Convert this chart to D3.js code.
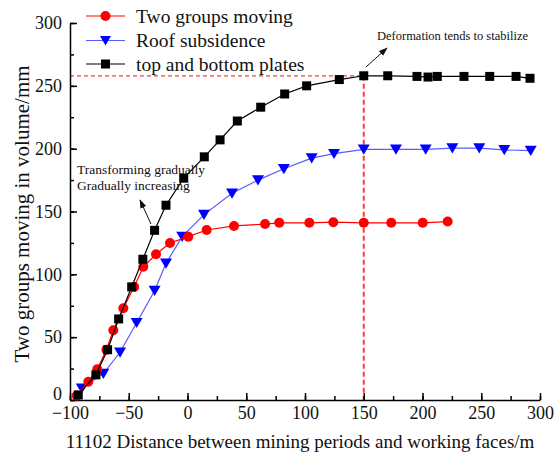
<!DOCTYPE html>
<html>
<head>
<meta charset="utf-8">
<script src="https://cdn.jsdelivr.net/npm/d3@7"></script>
<style>
  html, body { margin: 0; padding: 0; background: #fff; }
  svg { display: block; }
  svg text { font-family: "Liberation Serif", "DejaVu Serif", serif; }
</style>
</head>
<body>
<svg id="chart" width="555" height="459"></svg>
<script>
// Distance between mining periods and working faces (m) and displacement (mm)
const xMove = [-94.3, -84.4, -76.8, -69, -63.1, -54.6, -45.5, -37.6, -26.8, -14.9, 0.7, 16.3, 39.6, 66, 78.1, 103.7, 124.1, 150, 173.4, 200.2, 221.4];
const yMove = [3.5, 14.5, 24.5, 40, 55.5, 73, 90, 106, 116, 125, 130, 135.3, 138.5, 140, 141, 141, 141.5, 141, 141, 141, 142];

const xRoof = [-90, -71.6, -57.4, -43.3, -28, -18.3, -4.5, 14, 37.9, 60, 82, 105.7, 124.7, 150, 177.4, 202.7, 225.4, 248.3, 269.6, 292.1];
const yRoof = [9.3, 21, 38, 61.5, 87, 108.8, 130, 147.5, 164.5, 175, 184, 192.5, 196, 199.5, 199.5, 199.5, 200.5, 200.5, 199, 198.5];

const xPlate = [-93, -78, -68, -58.6, -47.5, -38, -28, -18.3, -3.2, 14.3, 27.7, 42.4, 62.3, 82.7, 101.4, 129.2, 150, 170.4, 195.3, 204.7, 212.6, 235.3, 257.2, 279.6, 291.5];
const yPlate = [4, 20, 40, 64.5, 90, 112, 135, 155, 176.5, 193.5, 207, 222, 233, 243.5, 250, 255, 258, 258, 257.5, 257, 257.5, 257.5, 257.5, 257.5, 256];

const seriesNames = ["Two groups moving", "Roof subsidence", "top and bottom plates"];
const xTicks = [-100, -50, 0, 50, 100, 150, 200, 250, 300];
const yTicks = [0, 50, 100, 150, 200, 250, 300];
const stableX = 150, stableY = 258;

const svg = d3.select("#chart");
const x = d3.scaleLinear().domain([-100, 300]).range([70, 540]);
const y = d3.scaleLinear().domain([0, 300]).range([400, 23]);

// Reference lines marking where deformation levels off
const refColor = "#ff3b3b";
svg.append("line")
  .attr("x1", x(-100)).attr("x2", x(stableX))
  .attr("y1", y(stableY)).attr("y2", y(stableY))
  .attr("stroke", refColor).attr("stroke-width", 1.2).attr("stroke-dasharray", "4,3");
svg.append("line")
  .attr("x1", x(stableX)).attr("x2", x(stableX))
  .attr("y1", y(stableY)).attr("y2", y(0))
  .attr("stroke", refColor).attr("stroke-width", 2).attr("stroke-dasharray", "5,3");

// Axes with inward ticks
const minorX = d3.range(-100, 301, 25);
const minorY = d3.range(0, 301, 25);
svg.append("g").attr("transform", `translate(0,${y(0)})`)
  .call(d3.axisBottom(x).tickValues(minorX).tickSize(-4).tickFormat(""))
  .call(g => g.select(".domain").remove());
svg.append("g").attr("transform", `translate(${x(-100)},0)`)
  .call(d3.axisLeft(y).tickValues(minorY).tickSize(-4).tickFormat(""))
  .call(g => g.select(".domain").remove());

const fmt = d => d < 0 ? "\u2212" + Math.abs(d) : String(d);
const gx = svg.append("g").attr("transform", `translate(0,${y(0)})`)
  .call(d3.axisBottom(x).tickValues(xTicks).tickSize(-7).tickSizeOuter(0).tickPadding(6).tickFormat(fmt));
const gy = svg.append("g").attr("transform", `translate(${x(-100)},0)`)
  .call(d3.axisLeft(y).tickValues(yTicks).tickSize(-7).tickSizeOuter(0).tickPadding(8).tickFormat(fmt));
[gx, gy].forEach(g => {
  g.attr("font-family", null);
  g.selectAll("text").attr("font-size", 18).attr("fill", "#111");
  g.selectAll("line, path").attr("stroke", "#000").attr("stroke-width", 1.5);
});
// lift the zero label on the value axis so it clears the distance labels
gy.selectAll(".tick").filter(d => d === 0).select("text").attr("dy", "-0.05em");
svg.selectAll("g line").attr("stroke-width", 1.5);

// Axis titles
svg.append("text")
  .attr("x", 300).attr("y", 448)
  .attr("text-anchor", "middle").attr("font-size", 19).attr("fill", "#111")
  .text("11102 Distance between mining periods and working faces/m");
svg.append("text")
  .attr("transform", `translate(29,${214}) rotate(-90)`)
  .attr("text-anchor", "middle").attr("font-size", 21).attr("fill", "#111")
  .text("Two groups moving in volume/mm");

// Series
const line = d3.line().x(d => x(d[0])).y(d => y(d[1]));
const zip = (a, b) => a.map((v, i) => [v, b[i]]);
const dataMove = zip(xMove, yMove);
const dataRoof = zip(xRoof, yRoof);
const dataPlate = zip(xPlate, yPlate);

const triDown = (cx, cy, s) => `M${cx - s},${cy - s * 0.8}L${cx + s},${cy - s * 0.8}L${cx},${cy + s * 0.9}Z`;

function drawRoof(g, data) {
  g.append("path").datum(data).attr("d", line).attr("fill", "none").attr("stroke", "#5a5aff").attr("stroke-width", 1.2);
  g.selectAll("path.m").data(data).join("path").attr("class", "m")
    .attr("d", d => triDown(x(d[0]), y(d[1]), 6)).attr("fill", "#0000ff");
}
function drawMove(g, data) {
  g.append("path").datum(data).attr("d", line).attr("fill", "none").attr("stroke", "#ff0000").attr("stroke-width", 1.2);
  g.selectAll("circle").data(data).join("circle")
    .attr("cx", d => x(d[0])).attr("cy", d => y(d[1])).attr("r", 5).attr("fill", "#ff0000");
}
function drawPlate(g, data) {
  g.append("path").datum(data).attr("d", line).attr("fill", "none").attr("stroke", "#000").attr("stroke-width", 1.2);
  g.selectAll("rect").data(data).join("rect")
    .attr("x", d => x(d[0]) - 4.5).attr("y", d => y(d[1]) - 4.5)
    .attr("width", 9).attr("height", 9).attr("fill", "#000");
}
drawRoof(svg.append("g"), dataRoof);
drawMove(svg.append("g"), dataMove);
drawPlate(svg.append("g"), dataPlate);

// Legend
const legendY = [16, 40.5, 64];
const lg = svg.append("g");
const lcolors = ["#ff0000", "#5a5aff", "#000"];
seriesNames.forEach((name, i) => {
  const ly = legendY[i];
  lg.append("line").attr("x1", 86).attr("x2", 125).attr("y1", ly).attr("y2", ly)
    .attr("stroke", lcolors[i]).attr("stroke-width", 1.2);
  if (i === 0) lg.append("circle").attr("cx", 105.5).attr("cy", ly).attr("r", 5).attr("fill", "#ff0000");
  if (i === 1) lg.append("path").attr("d", triDown(105.5, ly, 5.5)).attr("fill", "#0000ff");
  if (i === 2) lg.append("rect").attr("x", 101).attr("y", ly - 4.5).attr("width", 9).attr("height", 9).attr("fill", "#000");
  lg.append("text").attr("x", 136).attr("y", ly + 6.5).attr("font-size", 19.5).attr("fill", "#111").text(name);
});

// Annotations
svg.append("defs").append("marker")
  .attr("id", "arrow").attr("viewBox", "0 0 10 10").attr("refX", 9).attr("refY", 5)
  .attr("markerWidth", 9).attr("markerHeight", 9).attr("orient", "auto")
  .attr("markerUnits", "userSpaceOnUse")
  .append("path").attr("d", "M0,1.5L10,5L0,8.5Z").attr("fill", "#111");

svg.append("line").attr("x1", 151).attr("y1", 224).attr("x2", 140).attr("y2", 200)
  .attr("stroke", "#111").attr("stroke-width", 1).attr("marker-end", "url(#arrow)");
svg.append("text").attr("x", 77).attr("y", 174).attr("font-size", 13.5).attr("fill", "#111").text("Transforming gradually");
svg.append("text").attr("x", 77).attr("y", 190).attr("font-size", 13.5).attr("fill", "#111").text("Gradually increasing");

svg.append("line").attr("x1", 366).attr("y1", 67).attr("x2", 387).attr("y2", 48)
  .attr("stroke", "#111").attr("stroke-width", 1).attr("marker-end", "url(#arrow)");
svg.append("text").attr("x", 377).attr("y", 40).attr("font-size", 12.5).attr("fill", "#111").text("Deformation tends to stabilize");
</script>
</body>
</html>
